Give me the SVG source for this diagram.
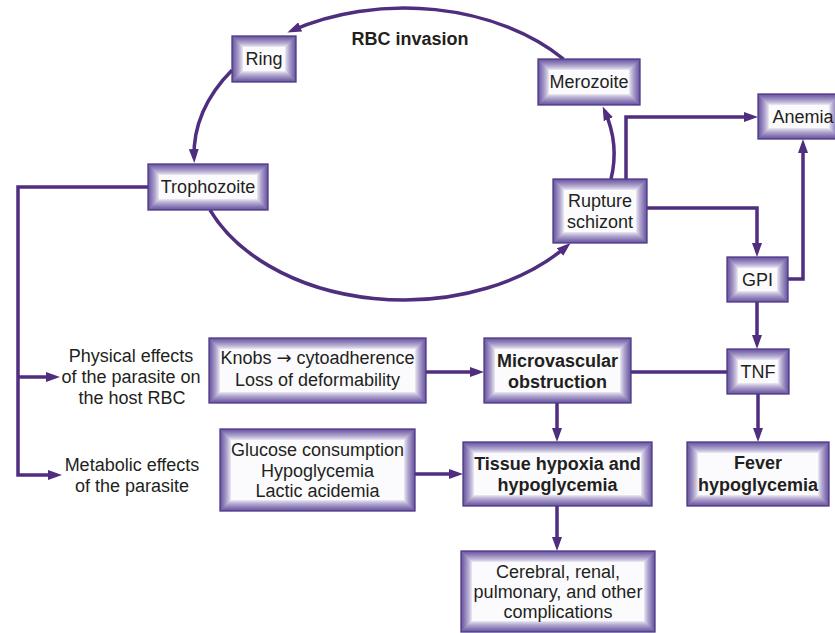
<svg xmlns="http://www.w3.org/2000/svg" width="835" height="633" viewBox="0 0 835 633">
  <defs>
    <style>
      text { font-family: "Liberation Sans", Arial, sans-serif; font-size: 18px; fill: #231f20; text-anchor: middle; }
      .b { font-weight: bold; }
      .sym { font-family: "DejaVu Sans", sans-serif; }
      .bx { fill: #ffffff; filter: url(#bevel); }
      .bd { fill: none; stroke: #4e3a86; stroke-width: 1.3; }
      .ln { fill: none; stroke: #4f2d7f; stroke-width: 3.5; }
      .ar { marker-end: url(#head); }
    </style>
    <!-- mitred inner bevel: purple at the edge, fading to white over 11px -->
    <filter id="bevel" x="-0.2" y="-0.3" width="1.4" height="1.6" color-interpolation-filters="sRGB">
      <feMorphology in="SourceAlpha" operator="erode" radius="1" result="e1"/>
      <feMorphology in="SourceAlpha" operator="erode" radius="2" result="e2"/>
      <feMorphology in="SourceAlpha" operator="erode" radius="3" result="e3"/>
      <feMorphology in="SourceAlpha" operator="erode" radius="4" result="e4"/>
      <feMorphology in="SourceAlpha" operator="erode" radius="5" result="e5"/>
      <feMorphology in="SourceAlpha" operator="erode" radius="6" result="e6"/>
      <feMorphology in="SourceAlpha" operator="erode" radius="7" result="e7"/>
      <feMorphology in="SourceAlpha" operator="erode" radius="8" result="e8"/>
      <feMorphology in="SourceAlpha" operator="erode" radius="9" result="e9"/>
      <feMorphology in="SourceAlpha" operator="erode" radius="10" result="e10"/>
      <feMorphology in="SourceAlpha" operator="erode" radius="11" result="e11"/>
      <feComposite in="e1" in2="e2" operator="arithmetic" k2="0.0909" k3="0.0909" result="s2"/>
      <feComposite in="s2" in2="e3" operator="arithmetic" k2="1" k3="0.0909" result="s3"/>
      <feComposite in="s3" in2="e4" operator="arithmetic" k2="1" k3="0.0909" result="s4"/>
      <feComposite in="s4" in2="e5" operator="arithmetic" k2="1" k3="0.0909" result="s5"/>
      <feComposite in="s5" in2="e6" operator="arithmetic" k2="1" k3="0.0909" result="s6"/>
      <feComposite in="s6" in2="e7" operator="arithmetic" k2="1" k3="0.0909" result="s7"/>
      <feComposite in="s7" in2="e8" operator="arithmetic" k2="1" k3="0.0909" result="s8"/>
      <feComposite in="s8" in2="e9" operator="arithmetic" k2="1" k3="0.0909" result="s9"/>
      <feComposite in="s9" in2="e10" operator="arithmetic" k2="1" k3="0.0909" result="s10"/>
      <feComposite in="s10" in2="e11" operator="arithmetic" k2="1" k3="0.0909" result="s11"/>
      <feComposite in="SourceAlpha" in2="s11" operator="arithmetic" k2="1" k3="-1" result="ramp"/>
      <feComponentTransfer in="ramp" result="edge">
        <feFuncA type="gamma" amplitude="1" exponent="0.75" offset="0"/>
      </feComponentTransfer>
      <feFlood flood-color="#6a56a2" result="tint"/>
      <feComposite in="tint" in2="edge" operator="in" result="shade"/>
      <feMerge>
        <feMergeNode in="SourceGraphic"/>
        <feMergeNode in="shade"/>
      </feMerge>
    </filter>
    <marker id="head" markerUnits="userSpaceOnUse" viewBox="0 0 14 10" markerWidth="14" markerHeight="10" refX="9" refY="5" orient="auto">
      <path d="M0,0 L14,5 L0,10 z" fill="#4f2d7f"/>
    </marker>
  </defs>

  <rect width="835" height="633" fill="#ffffff"/>

  <!-- connectors -->
  <g id="connectors">
    <!-- life cycle loop (ellipse cx 404, cy 154, rx 210, ry 146) -->
    <path class="ln ar" d="M563.5,59 A210,146 0 0 0 292,30.5"/>
    <path class="ln ar" d="M232,70.2 A210,146 0 0 0 194.1,158"/>
    <path class="ln ar" d="M210,210 A210,146 0 0 0 566.8,246.2"/>
    <path class="ln ar" d="M611,179 A210,146 0 0 0 604.7,111"/>

    <path class="ln ar" d="M626,179 V117 H753"/>
    <path class="ln ar" d="M647,208 H757 V252"/>
    <path class="ln ar" d="M788,279 H803 V144"/>
    <path class="ln ar" d="M757,302 V344"/>
    <path class="ln" d="M631,372 H727"/>
    <path class="ln ar" d="M758,394 V437"/>
    <path class="ln ar" d="M426,372 H479"/>
    <path class="ln ar" d="M557,403 V437"/>
    <path class="ln ar" d="M415,474 H458"/>
    <path class="ln ar" d="M557,506 V546"/>

    <path class="ln ar" d="M148,187 H18 V475 H57"/>
    <path class="ln ar" d="M18,377 H55"/>
  </g>

  <text class="b" x="410" y="45">RBC invasion</text>

  <g id="ring">
    <rect class="bx" x="232" y="36" width="64" height="46"/>
    <rect class="bd" x="232" y="36" width="64" height="46"/>
    <text x="264" y="65">Ring</text>
  </g>

  <g id="merozoite">
    <rect class="bx" x="538" y="59" width="102" height="46"/>
    <rect class="bd" x="538" y="59" width="102" height="46"/>
    <text x="589" y="88">Merozoite</text>
  </g>

  <g id="anemia">
    <rect class="bx" x="758" y="94" width="82" height="45"/>
    <rect class="bd" x="758" y="94" width="82" height="45"/>
    <text x="803" y="123">Anemia</text>
  </g>

  <g id="trophozoite">
    <rect class="bx" x="148" y="164" width="120" height="46"/>
    <rect class="bd" x="148" y="164" width="120" height="46"/>
    <text x="208" y="193">Trophozoite</text>
  </g>

  <g id="rupture-schizont">
    <rect class="bx" x="553" y="179" width="94" height="64"/>
    <rect class="bd" x="553" y="179" width="94" height="64"/>
    <text x="600" y="207">Rupture</text>
    <text x="600" y="228">schizont</text>
  </g>

  <g id="gpi">
    <rect class="bx" x="727" y="257" width="61" height="45"/>
    <rect class="bd" x="727" y="257" width="61" height="45"/>
    <text x="757.5" y="286">GPI</text>
  </g>

  <g id="tnf">
    <rect class="bx" x="727" y="349" width="62" height="45"/>
    <rect class="bd" x="727" y="349" width="62" height="45"/>
    <text x="758" y="378">TNF</text>
  </g>

  <g id="physical-effects">
    <text x="131" y="362">Physical effects</text>
    <text x="131" y="383">of the parasite on</text>
    <text x="132" y="404">the host RBC</text>
  </g>

  <g id="metabolic-effects">
    <text x="132" y="471">Metabolic effects</text>
    <text x="132" y="492">of the parasite</text>
  </g>

  <g id="knobs">
    <rect class="bx" x="209" y="338" width="217" height="65"/>
    <rect class="bd" x="209" y="338" width="217" height="65"/>
    <text x="317.5" y="364">Knobs <tspan class="sym">→</tspan> cytoadherence</text>
    <text x="317.5" y="386">Loss of deformability</text>
  </g>

  <g id="microvascular">
    <rect class="bx" x="484" y="338" width="147" height="65"/>
    <rect class="bd" x="484" y="338" width="147" height="65"/>
    <text class="b" x="557.5" y="367">Microvascular</text>
    <text class="b" x="557.5" y="388">obstruction</text>
  </g>

  <g id="glucose">
    <rect class="bx" x="220" y="429" width="195" height="82"/>
    <rect class="bd" x="220" y="429" width="195" height="82"/>
    <text x="317.5" y="456">Glucose consumption</text>
    <text x="317.5" y="477">Hypoglycemia</text>
    <text x="317.5" y="497">Lactic acidemia</text>
  </g>

  <g id="tissue-hypoxia">
    <rect class="bx" x="463" y="442" width="189" height="64"/>
    <rect class="bd" x="463" y="442" width="189" height="64"/>
    <text class="b" x="557.5" y="470">Tissue hypoxia and</text>
    <text class="b" x="557.5" y="491">hypoglycemia</text>
  </g>

  <g id="fever">
    <rect class="bx" x="687" y="442" width="142" height="64"/>
    <rect class="bd" x="687" y="442" width="142" height="64"/>
    <text class="b" x="758" y="469">Fever</text>
    <text class="b" x="758" y="491">hypoglycemia</text>
  </g>

  <g id="complications">
    <rect class="bx" x="461" y="551" width="194" height="81"/>
    <rect class="bd" x="461" y="551" width="194" height="81"/>
    <text x="558" y="578">Cerebral, renal,</text>
    <text x="558" y="598">pulmonary, and other</text>
    <text x="558" y="618">complications</text>
  </g>
</svg>
